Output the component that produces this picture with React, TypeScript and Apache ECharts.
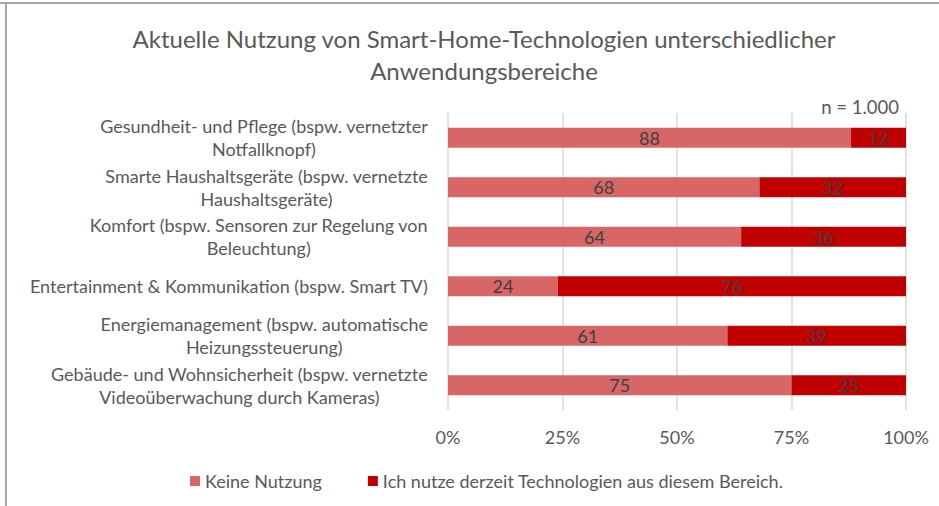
import React, { useEffect, useRef } from "react";
import * as echarts from "echarts";

const categories: string[] = [
  "Gesundheit- und Pflege (bspw. vernetzter\nNotfallknopf)",
  "Smarte Haushaltsgeräte (bspw. vernetzte\nHaushaltsgeräte)",
  "Komfort (bspw. Sensoren zur Regelung von\nBeleuchtung)",
  "Entertainment & Kommunikation (bspw. Smart TV)",
  "Energiemanagement (bspw. automatische\nHeizungssteuerung)",
  "Gebäude- und Wohnsicherheit (bspw. vernetzte\nVideoüberwachung durch Kameras)",
];
const keineNutzung: number[] = [88, 68, 64, 24, 61, 75];
const nutzung: number[] = [12, 32, 36, 76, 39, 25];
const seriesNames: string[] = [
  "Keine Nutzung",
  "Ich nutze derzeit Technologien aus diesem Bereich.",
];
const titleText = "Aktuelle Nutzung von Smart-Home-Technologien unterschiedlicher\nAnwendungsbereiche";
const noteText = "n = 1.000";

const FONT = "Lato";

export default function App() {
  const ref = useRef<HTMLDivElement>(null);
  useEffect(() => {
    if (!ref.current) return;
    const chart = echarts.init(ref.current, undefined, { renderer: "svg" });
    chart.setOption({
      animation: false,
      backgroundColor: "#ffffff",
      textStyle: { fontFamily: FONT },
      title: {
        text: titleText,
        left: 479,
        top: 17,
        textAlign: "center",
        textStyle: {
          fontFamily: FONT,
          fontSize: 24,
          fontWeight: "normal",
          color: "#595959",
          lineHeight: 32,
        },
      },
      legend: {
        data: seriesNames,
        left: 185,
        top: 467,
        icon: "rect",
        itemWidth: 10,
        itemHeight: 10,
        itemGap: 46,
        textStyle: { fontFamily: FONT, fontSize: 18, color: "#595959" },
      },
      grid: { left: 448, right: 33, top: 113, bottom: 96, containLabel: false },
      xAxis: {
        type: "value",
        min: 0,
        max: 100,
        interval: 25,
        axisLine: { show: false },
        axisTick: { show: false },
        splitLine: { show: true, lineStyle: { color: "#d9d9d9", width: 1.5 } },
        axisLabel: {
          formatter: "{value}%",
          margin: 18,
          fontFamily: FONT,
          fontSize: 18,
          color: "#595959",
        },
      },
      yAxis: {
        type: "category",
        inverse: true,
        data: categories,
        axisLine: { show: false },
        axisTick: { show: false },
        axisLabel: {
          margin: 20,
          align: "right",
          fontFamily: FONT,
          fontSize: 18,
          color: "#595959",
          lineHeight: 23,
          formatter: (v: string) =>
            v
              .split("\n")
              .map((l) => "{c|" + l + "}")
              .join("\n"),
          rich: {
            c: {
              align: "center",
              fontFamily: FONT,
              fontSize: 18,
              color: "#595959",
              lineHeight: 23,
            },
          },
        },
      },
      graphic: [
        {
          type: "line",
          shape: { x1: 0, y1: 3, x2: 939, y2: 3 },
          style: { stroke: "#a6a6a6", lineWidth: 2 },
        },
        {
          type: "line",
          shape: { x1: 6, y1: 3, x2: 6, y2: 506 },
          style: { stroke: "#a6a6a6", lineWidth: 2 },
        },
        {
          type: "text",
          x: 899,
          y: 107,
          style: {
            text: noteText,
            textAlign: "right",
            textVerticalAlign: "middle",
            fontFamily: FONT,
            fontSize: 18.5,
            fill: "#595959",
          },
        },
      ],
      series: [
        {
          name: seriesNames[0],
          type: "bar",
          stack: "total",
          barWidth: 20,
          data: keineNutzung,
          itemStyle: { color: "#D86666" },
          label: {
            show: true,
            position: "inside",
            fontFamily: FONT,
            fontSize: 18,
            color: "#404040",
          },
        },
        {
          name: seriesNames[1],
          type: "bar",
          stack: "total",
          barWidth: 20,
          data: nutzung,
          itemStyle: { color: "#C00000" },
          label: {
            show: true,
            position: "inside",
            fontFamily: FONT,
            fontSize: 18,
            color: "#404040",
          },
        },
      ],
    });
    return () => chart.dispose();
  }, []);
  return (
    <div
      ref={ref}
      style={{ position: "fixed", left: 0, top: 0, width: 939, height: 506 }}
    />
  );
}
